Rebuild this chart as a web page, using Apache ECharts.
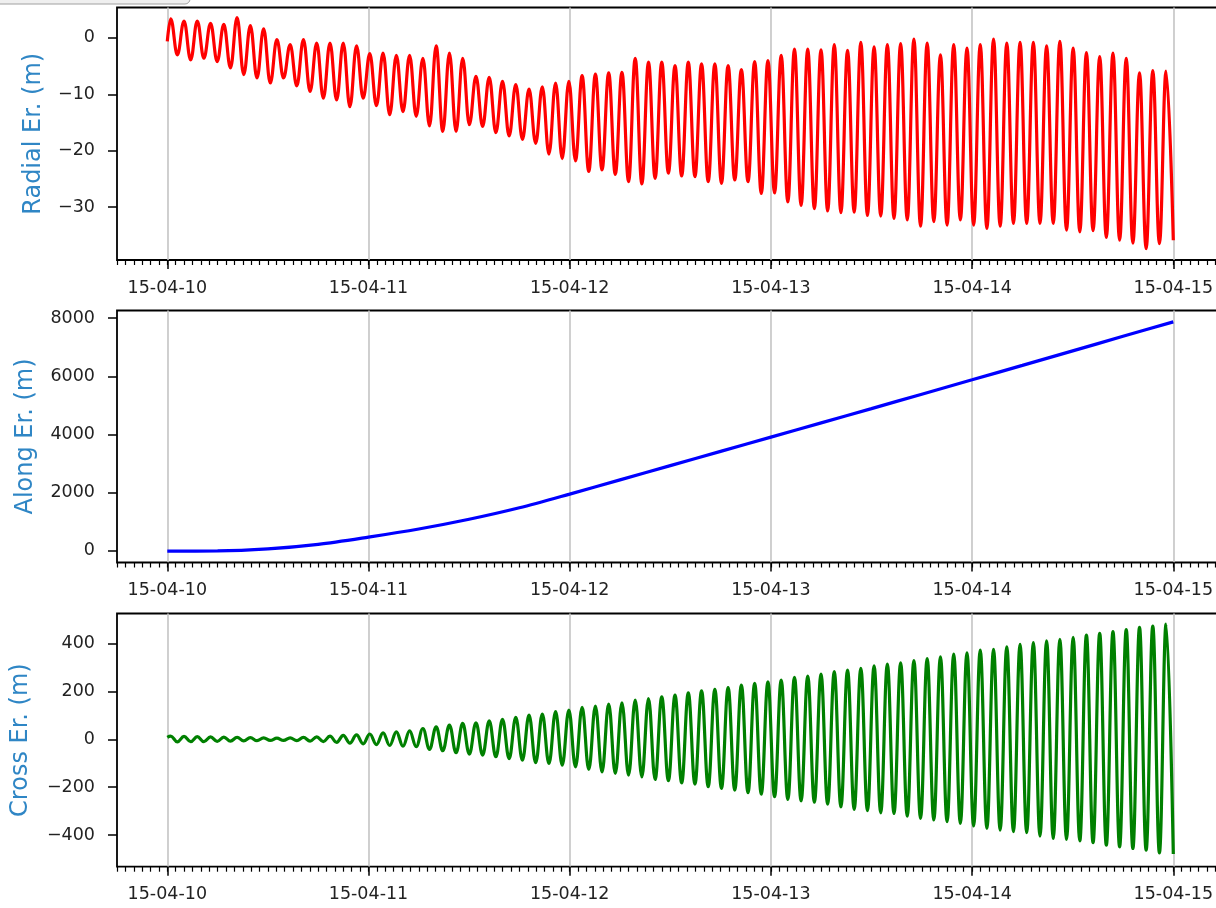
<!DOCTYPE html>
<html>
<head>
<meta charset="utf-8">
<title>Orbit error</title>
<script src="https://cdn.jsdelivr.net/npm/echarts@6/dist/echarts.min.js"></script>
<style>
  html, body { margin: 0; padding: 0; background: #fff; overflow: hidden; }
  /* a little wider than the window: the right edge of the frames falls just outside */
  #chart { width: 1226px; height: 908px; }
</style>
</head>
<body>
<div id="chart"></div>
<script>
// x values are hours since 2015-04-10 00:00
const dayHours = [0, 24, 48, 72, 96, 120]
const dayLabels = ['15-04-10', '15-04-11', '15-04-12', '15-04-13', '15-04-14', '15-04-15']

const radialTicks = [-30, -20, -10, 0]
const alongTicks = [0, 2000, 4000, 6000, 8000]
const crossTicks = [-400, -200, 0, 200, 400]

// the radial and cross errors swing once per orbit (~95 min),
// so they are kept as the peak / trough of every revolution
const firstPeakHour = 0.41
const halfOrbitHours = 0.7915

const radialStart = -0.6
const radialPeaks = [
  3.4, 3.0, 3.0, 2.6, 2.4, 3.6, 2.2, 1.6, -0.3, -1.2,
  -0.3, -0.9, -0.9, -0.9, -1.4, -2.8, -2.7, -3.1, -3.1, -3.6,
  -1.4, -2.7, -3.6, -6.8, -7.0, -7.7, -8.3, -9.1, -8.7, -8.0,
  -7.7, -6.7, -6.4, -6.2, -6.1, -3.6, -4.3, -4.3, -4.9, -4.3,
  -4.6, -4.6, -4.9, -5.6, -4.2, -4.0, -3.1, -2.0, -2.0, -2.1,
  -1.2, -2.2, -0.8, -1.6, -1.2, -1.0, -0.2, -0.9, -3.0, -1.2,
  -1.8, -1.2, -0.2, -0.9, -0.8, -0.8, -1.4, -0.6, -1.8, -2.6,
  -3.3, -2.7, -3.6, -6.2, -5.8, -5.9
]
// last trough is the final sample at 15-04-15
const radialTroughs = [
  -3.0, -3.9, -3.6, -4.2, -5.3, -6.5, -7.1, -8.0, -7.1, -8.5,
  -9.5, -10.7, -11.0, -12.2, -10.7, -12.0, -13.6, -13.1, -13.9, -15.6,
  -16.6, -16.6, -15.4, -15.7, -16.8, -17.4, -18.0, -18.7, -20.6, -21.4,
  -21.8, -23.7, -23.4, -24.2, -25.5, -25.9, -24.9, -24.0, -24.5, -24.6,
  -25.5, -25.8, -25.2, -25.5, -27.6, -27.5, -29.1, -29.7, -30.3, -30.7,
  -31.0, -30.9, -31.5, -31.6, -32.0, -32.3, -33.4, -32.6, -33.2, -32.3,
  -33.2, -33.8, -33.4, -32.9, -32.9, -32.9, -32.9, -34.1, -34.4, -34.2,
  -35.4, -35.9, -36.4, -37.4, -36.5, -35.9
]

const crossStart = 8
const crossPeaks = [
  13, 12, 11, 10, 9, 8, 7, 6, 5, 6,
  8, 10, 13, 16, 18, 22, 27, 31, 35, 45,
  52, 59, 66, 69, 77, 83, 91, 101, 105, 115,
  122, 133, 138, 147, 152, 163, 170, 177, 184, 194,
  202, 208, 216, 226, 233, 240, 247, 258, 264, 272,
  282, 289, 296, 306, 314, 319, 328, 337, 344, 355,
  361, 372, 375, 386, 396, 403, 411, 417, 425, 435,
  442, 449, 458, 467, 472, 481
]
const crossTroughs = [
  -11, -10, -10, -9, -8, -7, -6, -5, -5, -6,
  -8, -10, -13, -16, -19, -22, -26, -29, -31, -42,
  -48, -56, -62, -66, -73, -81, -87, -98, -101, -108,
  -115, -126, -136, -143, -150, -157, -168, -173, -182, -187,
  -198, -205, -212, -223, -229, -240, -251, -257, -263, -271,
  -282, -293, -298, -307, -310, -321, -330, -337, -344, -351,
  -362, -372, -379, -386, -390, -404, -414, -418, -424, -432,
  -442, -449, -456, -463, -474, -479
]

const alongHours = [0, 6, 12, 18, 24, 30, 36, 42, 48, 54, 60, 66, 72, 78, 84, 90, 96, 102, 108, 114, 120]
const alongValues = [-10, -5, 65, 220, 470, 750, 1085, 1480, 1950, 2440, 2930, 3420, 3909, 4400, 4890, 5385, 5879, 6375, 6875, 7375, 7873]

const orbitPoints = (start, peaks, troughs) => {
  const pts = [[0, start]]
  peaks.forEach((p, i) => {
    pts.push([firstPeakHour + 2 * i * halfOrbitHours, p])
    const t = firstPeakHour + (2 * i + 1) * halfOrbitHours
    pts.push([i === troughs.length - 1 ? 120 : t, troughs[i]])
  })
  return pts
}

const font = 'DejaVu Sans'
const minus = (v) => String(v).replace('-', '\u2212')

const panels = [
  { top: 7.5, height: 252.5, name: 'Radial Er. (m)', nameGap: 71, min: -39.4, max: 5.4, ticks: radialTicks, color: '#ff0000',
    data: orbitPoints(radialStart, radialPeaks, radialTroughs), smooth: 0.4, mono: 'x' },
  { top: 310.5, height: 252, name: 'Along Er. (m)', nameGap: 79, min: -402, max: 8263, ticks: alongTicks, color: '#0000ff',
    data: alongHours.map((h, i) => [h, alongValues[i]]), smooth: 0.3, mono: null },
  { top: 613.5, height: 253.2, name: 'Cross Er. (m)', nameGap: 84, min: -532, max: 525, ticks: crossTicks, color: '#008000',
    data: orbitPoints(crossStart, crossPeaks, crossTroughs), smooth: 0.4, mono: 'x' }
]

const chart = echarts.init(document.getElementById('chart'), null, { renderer: 'canvas' })

const option = {
  animation: false,
  backgroundColor: '#fff',
  textStyle: { fontFamily: font },
  graphic: [{
    type: 'rect',
    shape: { x: -6, y: -22, width: 196, height: 26, r: 5 },
    style: { fill: '#efefef', stroke: '#a0a0a0', lineWidth: 1 }
  }],
  grid: panels.map(p => ({
    left: 117, top: p.top, width: 1106.6, height: p.height,
    show: true, borderColor: '#000', borderWidth: 1.8, backgroundColor: 'transparent'
  })),
  xAxis: [],
  yAxis: [],
  series: []
}

panels.forEach((p, i) => {
  // hourly minor ticks
  option.xAxis.push({
    type: 'value', gridIndex: i, position: 'bottom', min: -6, max: 126, interval: 1,
    axisLine: { show: false, onZero: false },
    axisTick: { show: true, length: 5, lineStyle: { color: '#000', width: 1.2 } },
    axisLabel: { show: false },
    splitLine: { show: false }
  })
  // day ticks, labels and grid lines
  option.xAxis.push({
    type: 'value', gridIndex: i, position: 'bottom', min: -6, max: 126,
    axisLine: { show: false, onZero: false },
    axisTick: { show: true, length: 9, customValues: dayHours, lineStyle: { color: '#000', width: 1.5 } },
    axisLabel: {
      show: true, customValues: dayHours, margin: 19,
      color: '#222', fontSize: 17.5, fontFamily: font,
      formatter: v => dayLabels[dayHours.indexOf(v)]
    },
    splitLine: { show: true, lineStyle: { color: '#c4c4c4', width: 1.6 } }
  })
  option.yAxis.push({
    type: 'value', gridIndex: i, min: p.min, max: p.max,
    name: p.name, nameLocation: 'middle', nameGap: p.nameGap,
    nameTextStyle: { color: '#2f86c5', fontSize: 24, fontFamily: font },
    axisLine: { show: false, onZero: false },
    axisTick: { show: true, length: 9, customValues: p.ticks, lineStyle: { color: '#000', width: 1.5 } },
    axisLabel: {
      customValues: p.ticks, margin: 22,
      color: '#222', fontSize: 17.5, fontFamily: font,
      formatter: minus
    },
    splitLine: { show: false }
  })
  option.series.push({
    type: 'line', xAxisIndex: 2 * i, yAxisIndex: i,
    data: p.data, showSymbol: false, smooth: p.smooth,
    smoothMonotone: p.mono || undefined,
    lineStyle: { color: p.color, width: 3.2 },
    z: 3
  })
})

chart.setOption(option)

window.addEventListener('resize', () => chart.resize())
</script>
</body>
</html>
